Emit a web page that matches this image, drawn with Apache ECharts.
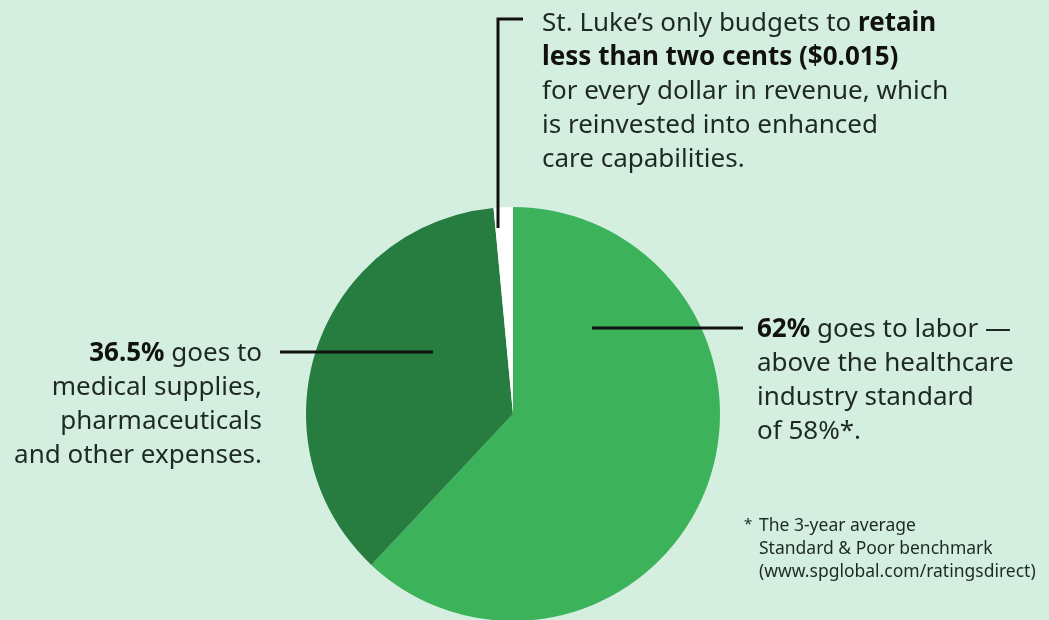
<!DOCTYPE html>
<html>
<head>
<meta charset="utf-8">
<script src="https://cdn.jsdelivr.net/npm/echarts@6/dist/echarts.min.js"></script>
<style>
  html, body { margin: 0; padding: 0; background: #d4efdf; }
  #chart { width: 1049px; height: 620px; }
</style>
</head>
<body>
<div id="chart"></div>
<script>
const sliceNames = ['Labor', 'Medical supplies, pharmaceuticals and other expenses', 'Retained']
const sliceValues = [62, 36.5, 1.5]
const sliceColors = ['#3cb25b', '#267d3f', '#ffffff']

const leftLines = ['{b|36.5%} goes to', 'medical supplies,', 'pharmaceuticals', 'and other expenses.']

const font = 'Noto Sans'
const textColor = '#1f2923'
const fs = 26

const myChart = echarts.init(document.getElementById('chart'))

const lineStyle = { stroke: '#111', lineWidth: 3 }
const boldRich = { b: { fontFamily: font, fontSize: fs, fontWeight: 'bold', fill: '#111' } }

const graphics = [
  // top callout
  { type: 'polyline', z: 100, shape: { points: [[523, 19], [498, 19], [498, 228]] }, style: Object.assign({ fill: null }, lineStyle) },
  // right callout
  { type: 'line', z: 100, shape: { x1: 592, y1: 328, x2: 743, y2: 328 }, style: lineStyle },
  // left callout
  { type: 'line', z: 100, shape: { x1: 280, y1: 352, x2: 433, y2: 352 }, style: lineStyle },
  {
    type: 'text', z: 100, left: 542, top: 7,
    style: {
      text: 'St. Luke\u2019s only budgets to {b|retain}\n{b|less than two cents ($0.015)}\nfor every dollar in revenue, which\nis reinvested into enhanced\ncare capabilities.',
      fontFamily: font, fontSize: fs, lineHeight: 34, fill: textColor,
      rich: boldRich
    }
  },
  {
    type: 'text', z: 100, left: 757, top: 313,
    style: {
      text: '{b|62%} goes to labor \u2014\nabove the healthcare\nindustry standard\nof 58%*.',
      fontFamily: font, fontSize: fs, lineHeight: 34, fill: textColor,
      rich: boldRich
    }
  },
  {
    type: 'text', z: 100, left: 744, top: 517,
    style: { text: '*', fontFamily: font, fontSize: 15, fill: textColor }
  },
  {
    type: 'text', z: 100, left: 759, top: 515,
    style: {
      text: 'The 3-year average\nStandard & Poor benchmark\n(www.spglobal.com/ratingsdirect)',
      fontFamily: font, fontSize: 17.5, lineHeight: 23, fill: textColor
    }
  }
]

// left block, right aligned line by line
leftLines.forEach((t, i) => {
  graphics.push({
    type: 'text', z: 100,
    x: 262, y: 354 + i * 34,
    style: {
      text: t, align: 'right', verticalAlign: 'middle',
      fontFamily: font, fontSize: fs, fill: textColor,
      rich: boldRich
    }
  })
})

const option = {
  backgroundColor: '#d4efdf',
  animation: false,
  series: [{
    type: 'pie',
    center: [513, 414],
    radius: 207,
    startAngle: 90,
    clockwise: true,
    silent: true,
    label: { show: false },
    labelLine: { show: false },
    itemStyle: { borderWidth: 0 },
    data: sliceNames.map((name, i) => ({
      name,
      value: sliceValues[i],
      itemStyle: { color: sliceColors[i] }
    }))
  }],
  graphic: graphics
}

myChart.setOption(option)
</script>
</body>
</html>
